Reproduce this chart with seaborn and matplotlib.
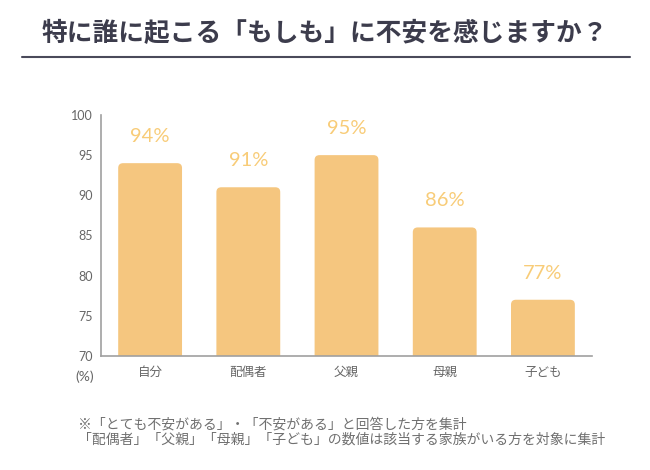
import matplotlib
matplotlib.use("Agg")
import matplotlib.pyplot as plt
from matplotlib.patches import FancyBboxPatch
import seaborn as sns
import pandas as pd

# data
categories = ["自分", "配偶者", "父親", "母親", "子ども"]
values = [94, 91, 95, 86, 77]
y_ticks = [70, 75, 80, 85, 90, 95, 100]

title = "特に誰に起こる「もしも」に不安を感じますか？"
note = ("※「とても不安がある」・「不安がある」と回答した方を集計\n"
        "「配偶者」「父親」「母親」「子ども」の数値は該当する家族がいる方を対象に集計")

sns.set_theme(style="white")
plt.rcParams["font.family"] = ["Noto Sans CJK JP", "DejaVu Sans"]

bar_color = "#F5C67F"
label_color = "#F8CC78"
gray = "#666666"

df = pd.DataFrame({"who": categories, "pct": values})

fig = plt.figure(figsize=(6.5, 4.7), dpi=100)
ax = fig.add_axes([0.1554, 0.2426, 0.7554, 0.5128])

sns.barplot(data=df, x="who", y="pct", color=bar_color, width=0.65,
            saturation=1, ax=ax)

# swap the plain bars for ones with rounded corners
for p in list(ax.patches):
    x0, y0 = p.get_x(), p.get_y()
    w, h = p.get_width(), p.get_height()
    rb = FancyBboxPatch((x0, y0), w, h, boxstyle="round,pad=0,rounding_size=0.05",
                        mutation_aspect=12, facecolor=bar_color, edgecolor="none")
    p.remove()
    ax.add_patch(rb)

ax.set_ylim(70, 100)
ax.set_xlim(-0.5, 4.5)
ax.set_yticks(y_ticks)
ax.set_xlabel("")
ax.set_ylabel("")

for i, v in enumerate(values):
    ax.annotate(f"{v}%", (i, v), xytext=(0, 13), textcoords="offset points",
                ha="center", va="bottom", fontsize=14.5, color=label_color,
                family=["Lato", "DejaVu Sans"])

ax.tick_params(axis="both", length=0, colors=gray, labelsize=9)
ax.tick_params(axis="x", pad=7)
ax.tick_params(axis="y", pad=6)
for t in ax.get_yticklabels():
    t.set_family(["Lato", "DejaVu Sans"])

for s in ["top", "right"]:
    ax.spines[s].set_visible(False)
ax.spines["left"].set_color("#A0A0A0")
ax.spines["bottom"].set_color("#A0A0A0")
ax.spines["left"].set_linewidth(1.2)
ax.spines["bottom"].set_linewidth(1.2)

fig.text(85 / 650, 1 - 377 / 470, "(%)", ha="center", va="center",
         fontsize=10, color=gray, family=["Lato", "DejaVu Sans"])

fig.text(0.5, 1 - 34 / 470, title, ha="center", va="center",
         fontsize=18.5, fontweight="bold", color="#3C3C4C")
fig.add_artist(plt.Line2D([22 / 650, 630 / 650], [1 - 57 / 470, 1 - 57 / 470],
                          color="#4A4A5A", linewidth=1.5))

fig.text(78 / 650, 1 - 432 / 470, note, ha="left", va="center",
         fontsize=10, color="#707070", linespacing=1.15)

fig.savefig("out.png", dpi=100)
